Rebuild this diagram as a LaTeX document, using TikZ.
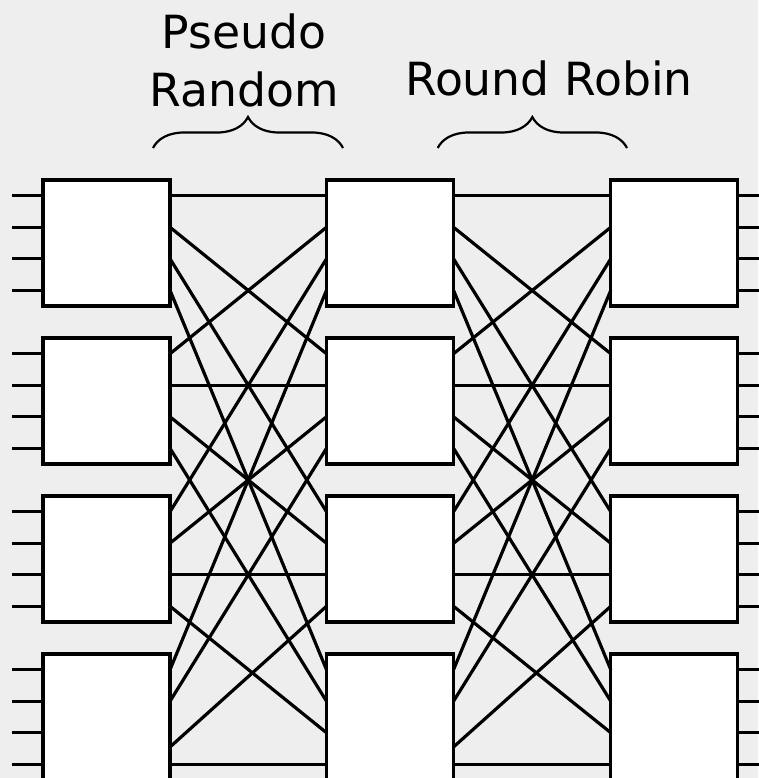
\documentclass[tikz,border=0pt]{standalone}
\usepackage{fontspec}
\setmainfont{DejaVu Sans}
\usetikzlibrary{calc,decorations.pathreplacing}
\definecolor{bggray}{RGB}{238,238,238}

\tikzset{
  switchbox/.style={draw, fill=white, line width=3.3pt, minimum width=127pt,
    minimum height=126pt, inner sep=0pt, outer sep=0pt},
  wire/.style={line width=3.2pt},
  groupbrace/.style={decorate, decoration={brace, amplitude=31pt}, line width=2.2pt},
  grouplabel/.style={font=\fontsize{45.7}{58}\selectfont, align=center,
    anchor=base, inner sep=0pt}
}

\begin{document}
\begin{tikzpicture}[x=1pt, y=-1pt]
    % Background
    \fill[bggray] (0,0) rectangle (758,778);
    \useasboundingbox (0,0) rectangle (758,778);

    \def\colA{106.5}
    \def\colB{390}
    \def\colC{674.3}

    % Switch boxes, three stages
    \foreach \r/\y in {1/243,2/401,3/559,4/717} {
        \node[switchbox] (a\r) at (\colA,\y) {};
        \node[switchbox] (b\r) at (\colB,\y) {};
        \node[switchbox] (c\r) at (\colC,\y) {};
    }

    % Ports on each side of the boxes
    \foreach \n in {a,b,c} {
        \foreach \r in {1,...,4} {
            \foreach \p/\f in {1/0.125,2/0.375,3/0.625,4/0.875} {
                \coordinate (\n\r w\p) at ($(\n\r.north west)!\f!(\n\r.south west)$);
                \coordinate (\n\r e\p) at ($(\n\r.north east)!\f!(\n\r.south east)$);
            }
        }
    }
    % The bottom boxes leave port 3 a bit lower
    \coordinate (a4e3) at ($(a4.north east)!0.738!(a4.south east)$);
    \coordinate (b4e3) at ($(b4.north east)!0.738!(b4.south east)$);

    % Inputs and outputs
    \foreach \r in {1,...,4} {
        \foreach \p in {1,...,4} {
            \draw[wire] (a\r w\p) -- ++(-31,0);
            \draw[wire] (c\r e\p) -- ++(21,0);
        }
    }

    % Links between the stages
    \foreach \r in {1,...,4} {
        \foreach \p in {1,...,4} {
            \draw[wire] (a\r e\p) -- (b\p w\r);
            \draw[wire] (b\r e\p) -- (c\p w\r);
        }
    }

    % Braces and labels over the link stages
    \coordinate (prleft) at (153,148);
    \coordinate (prright) at (343,148);
    \coordinate (rrleft) at (437.7,148);
    \coordinate (rrright) at (627,148);
    \draw[groupbrace] (prleft) -- (prright);
    \draw[groupbrace] (rrleft) -- (rrright);
    \node[grouplabel] (prlabel) at (244,107) {Pseudo\\Random};
    \node[grouplabel] (rrlabel) at (549,96) {Round Robin};
\end{tikzpicture}
\end{document}
